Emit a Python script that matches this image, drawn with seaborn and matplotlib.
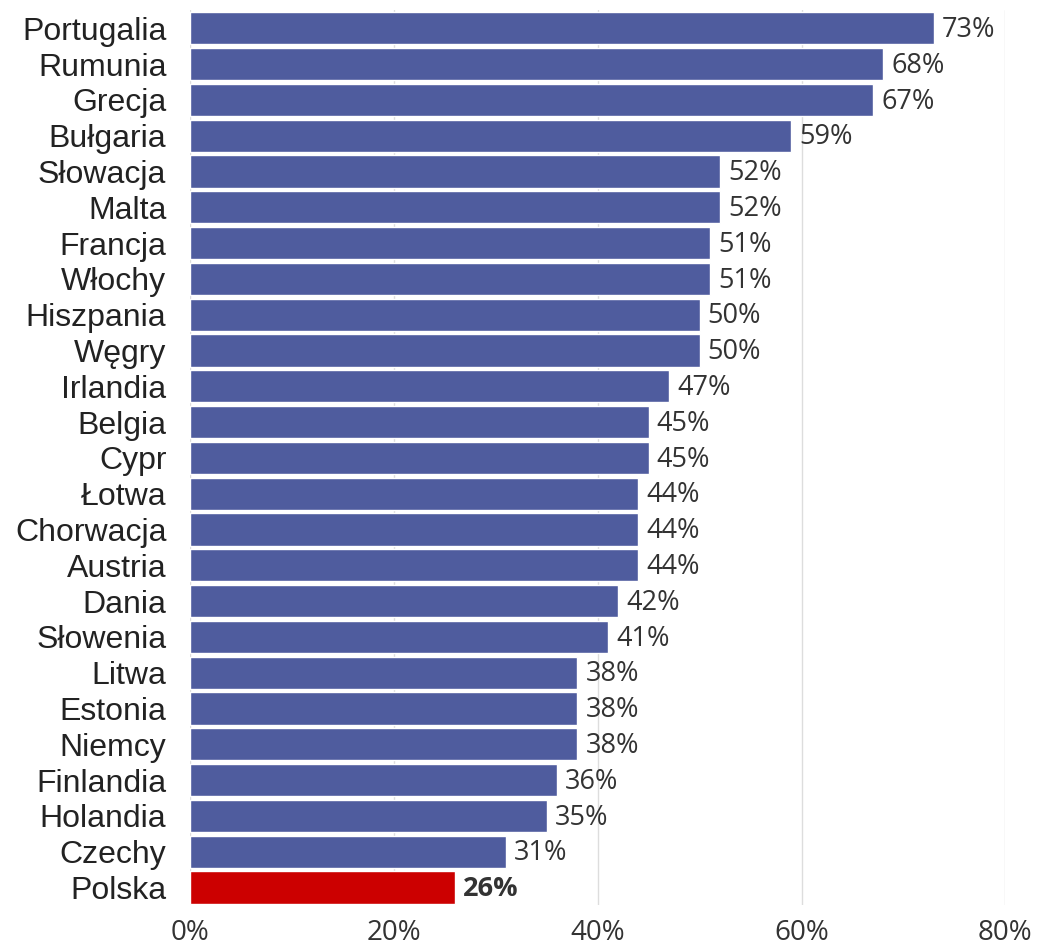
import seaborn as sns
import matplotlib.pyplot as plt
import pandas as pd

countries = ['Portugalia', 'Rumunia', 'Grecja', 'Bułgaria', 'Słowacja', 'Malta',
             'Francja', 'Włochy', 'Hiszpania', 'Węgry', 'Irlandia', 'Belgia',
             'Cypr', 'Łotwa', 'Chorwacja', 'Austria', 'Dania', 'Słowenia',
             'Litwa', 'Estonia', 'Niemcy', 'Finlandia', 'Holandia', 'Czechy', 'Polska']
values = [73, 68, 67, 59, 52, 52, 51, 51, 50, 50, 47, 45, 45, 44, 44, 44, 42, 41,
          38, 38, 38, 36, 35, 31, 26]
highlight = 'Polska'
x_ticks = [0, 20, 40, 60, 80]

BLUE = '#4f5c9e'
RED = '#cc0000'


def main():
    data = pd.DataFrame({'kraj': countries, 'wartosc': values})
    palette = {c: (RED if c == highlight else BLUE) for c in countries}

    sns.set_theme(style='white')
    fig = plt.figure(figsize=(10.44, 9.46), dpi=100)
    ax = fig.add_axes([0.182, 0.043, 0.781, 0.946])
    sns.barplot(data=data, x='wartosc', y='kraj', hue='kraj', palette=palette,
                legend=False, width=0.9, saturation=1, ax=ax)

    ax.set_xlim(0, 80)
    ax.set_ylim(len(countries) - 0.5, -0.5)
    ax.set_xticks(x_ticks)
    ax.set_xticklabels([f'{t}%' for t in x_ticks], fontsize=20,
                       family=['Open Sans', 'DejaVu Sans'], color='#333333')
    ax.tick_params(axis='x', length=0, pad=10)
    ax.tick_params(axis='y', length=0, pad=17)
    for lab in ax.get_yticklabels():
        lab.set_fontsize(23)
        lab.set_family(['Liberation Sans', 'DejaVu Sans'])
        lab.set_color('#222222')
    ax.set_xlabel('')
    ax.set_ylabel('')
    ax.xaxis.grid(True, color='#dddddd', linewidth=1)
    ax.set_axisbelow(True)
    for s in ax.spines.values():
        s.set_visible(False)

    for i, (c, v) in enumerate(zip(countries, values)):
        ax.text(v + 0.8, i + 0.05, f'{v}%', va='center', ha='left', fontsize=19.5,
                family=['Open Sans', 'DejaVu Sans'], color='#333333',
                fontweight='bold' if c == highlight else 'normal')

    fig.savefig('out.png', dpi=100)


if __name__ == '__main__':
    main()
